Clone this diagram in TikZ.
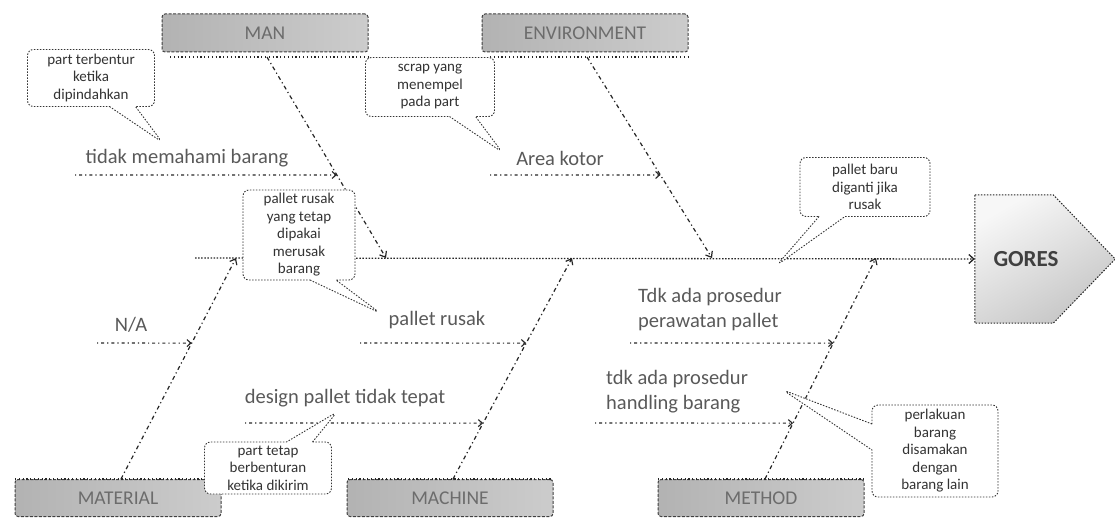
\documentclass[tikz,border=0pt]{standalone}
\usepackage{fontspec}
\setmainfont{Carlito}
\usetikzlibrary{shapes.callouts,arrows.meta,calc}

\begin{document}
\begin{tikzpicture}[x=1pt,y=-1pt,
  catbox/.style={draw=black!75, dash pattern=on 3pt off 1.5pt, line width=1pt,
    rounded corners=3pt, minimum width=206pt, minimum height=38pt,
    left color=gray!60, middle color=gray!12, right color=gray!40,
    text=gray!85!black, font=\fontsize{19.5}{19.5}\selectfont, inner sep=0pt},
  bubble/.style={rectangle callout, draw=black!80, dash pattern=on 1.5pt off 1.5pt,
    line width=0.9pt, rounded corners=6pt, fill=white, text=black!80,
    font=\fontsize{15}{17.5}\selectfont, align=center, inner sep=1pt,
    callout pointer width=26pt},
  cause/.style={text=black!65, font=\fontsize{20.5}{25}\selectfont, inner sep=0pt, align=left},
  spine/.style={draw=black!85, line width=1.2pt,
    dash pattern=on 4pt off 3pt on 1.2pt off 3pt,
    -{Straight Barb[length=5pt,width=8pt]}},
  twig/.style={draw=black!85, line width=1.1pt,
    dash pattern=on 1.2pt off 3pt on 3pt off 3pt,
    -{Straight Barb[length=4pt,width=7pt]}},
  ledge/.style={draw=black!85, line width=1.1pt, dash pattern=on 1.2pt off 2.6pt},
  mainline/.style={draw=black!85, line width=1.3pt, dash pattern=on 1.5pt off 1.6pt,
    -{Straight Barb[length=5pt,width=9pt]}},
  headbox/.style={minimum width=140pt, minimum height=128pt, inner sep=0pt},
  headshape/.style={draw=black!85, dash pattern=on 1.5pt off 1.5pt, line width=1pt,
    top color=gray!6, bottom color=gray!45, shading angle=30},
]
\useasboundingbox (0,0) rectangle (1115,519);

% category boxes
\node[catbox] (man)  at (265,33)  {MAN};
\node[catbox] (env)  at (585,33)  {ENVIRONMENT};
\node[catbox, minimum height=37pt] (mat)  at (118,498) {MATERIAL};
\node[catbox, minimum height=37pt] (mach) at (450,498) {MACHINE};
\node[catbox, minimum height=37pt] (meth) at (761,498) {METHOD};

% dotted ledges along the boxes
\draw[ledge] (170,57) -- (368,57);
\draw[ledge] (490,57) -- (688,57);
\draw[ledge] (15,479) -- (222,479);
\draw[ledge] (348,479) -- (553,479);
\draw[ledge] (658,479) -- (865,479);

% effect head: pentagon arrow
\node[headbox] (gores) at (1045,259) {};
\path[headshape] (gores.north west) -- ([xshift=-62pt]gores.north east)
  -- (gores.east) -- ([xshift=-62pt]gores.south east) -- (gores.south west) -- cycle;
\node[text=black!75, font=\bfseries\fontsize{23}{23}\selectfont] (goresText)
  at ([xshift=-19pt]gores.center) {GORES};

% spine feet and joints
\coordinate (manfoot)  at (267,57);
\coordinate (envfoot)  at (587,57);
\coordinate (matfoot)  at (121,479);
\coordinate (machfoot) at (453,479);
\coordinate (methfoot) at (765,479);
\coordinate (jMan)  at (386,258);
\coordinate (jEnv)  at (712,258);
\coordinate (jMat)  at (236,258);
\coordinate (jMach) at (572,258);
\coordinate (jMeth) at (876,258);
\coordinate (spineStart) at (195,258);

% backbone and category spines
\draw[mainline] (spineStart) -- (gores.west);
\draw[spine] (manfoot)  -- (jMan);
\draw[spine] (envfoot)  -- (jEnv);
\draw[spine] (matfoot)  -- (jMat);
\draw[spine] (machfoot) -- (jMach);
\draw[spine] (methfoot) -- (jMeth);

% causes
\node[cause] (c1) at (187,158) {tidak memahami barang};
\node[cause] (c2) at (560,158) {Area kotor};
\node[cause] (c3) at (131,325) {N/A};
\node[cause] (c4) at (437,320) {pallet rusak};
\node[cause, anchor=west] (c5) at (638,310) {Tdk ada prosedur\\perawatan pallet};
\node[cause] (c6) at (345,398) {design pallet tidak tepat};
\node[cause, anchor=west] (c7) at (606,392) {tdk ada prosedur\\handling barang};

\coordinate (t1) at (75,175);
\coordinate (t2) at (490,175);
\coordinate (t3) at (97,343);
\coordinate (t4) at (360,343);
\coordinate (t5) at (630,343);
\coordinate (t6) at (245,423);
\coordinate (t7) at (595,423);
\draw[twig] (t1) -- ($(manfoot)!0.587!(jMan)$);
\draw[twig] (t2) -- ($(envfoot)!0.587!(jEnv)$);
\draw[twig] (t3) -- ($(matfoot)!0.615!(jMat)$);
\draw[twig] (t4) -- ($(machfoot)!0.615!(jMach)$);
\draw[twig] (t5) -- ($(methfoot)!0.615!(jMeth)$);
\draw[twig] (t6) -- ($(machfoot)!0.253!(jMach)$);
\draw[twig] (t7) -- ($(methfoot)!0.253!(jMeth)$);

% remarks
\coordinate (tipA) at (162,142);
\coordinate (tipB) at (502,152);
\coordinate (tipC) at (380,313);
\coordinate (tipD) at (777,265);
\coordinate (tipE) at (337,412);
\coordinate (tipF) at (783,390);
\node[bubble, minimum width=127pt, minimum height=57pt, callout absolute pointer={(tipA)}]
  (nA) at (91,78) {part terbentur\\ketika\\dipindahkan};
\node[bubble, minimum width=129pt, minimum height=59pt, callout absolute pointer={(tipB)}]
  (nB) at (430,87) {scrap yang\\menempel\\pada part};
\node[bubble, minimum width=112pt, minimum height=90pt, callout absolute pointer={(tipC)}]
  (nC) at (299,235) {pallet rusak\\yang tetap\\dipakai\\merusak\\barang};
\node[bubble, minimum width=130pt, minimum height=59pt, callout absolute pointer={(tipD)}]
  (nD) at (865,187) {pallet baru\\diganti jika\\rusak};
\node[bubble, minimum width=127pt, minimum height=52pt, callout absolute pointer={(tipE)}]
  (nE) at (268,468) {part tetap\\berbenturan\\ketika dikirim};
\node[bubble, minimum width=126pt, minimum height=92pt, callout absolute pointer={(tipF)}]
  (nF) at (935,451) {perlakuan\\barang\\disamakan\\dengan\\barang lain};
\end{tikzpicture}
\end{document}
